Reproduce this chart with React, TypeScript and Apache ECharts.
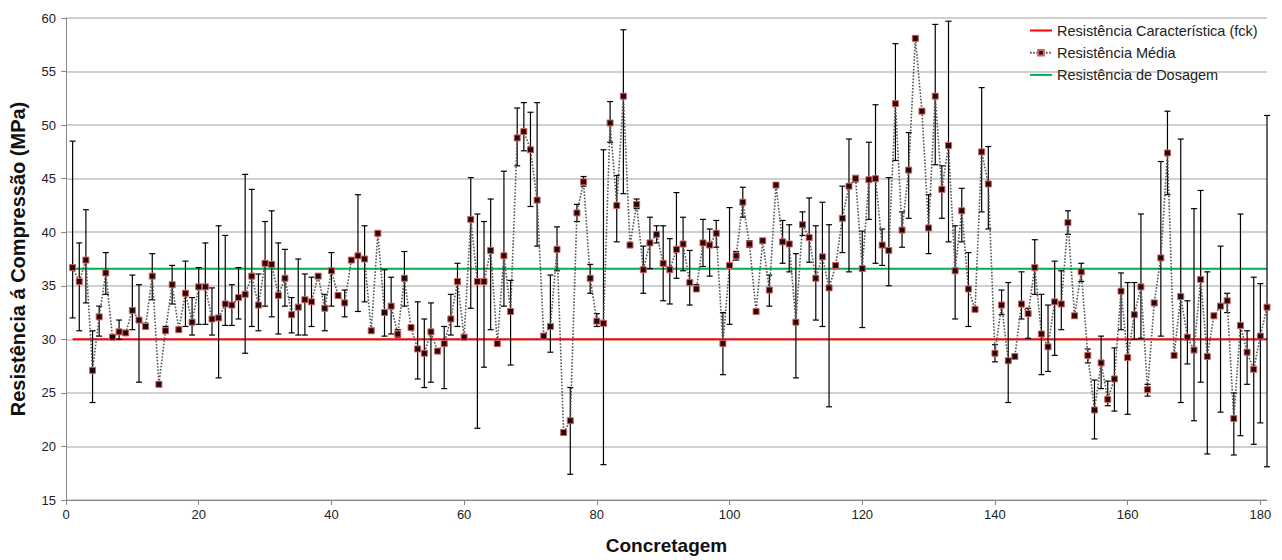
import React, { useEffect, useRef } from "react";
import * as echarts from "echarts";

const meanValues: number[] = [
  36.7, 35.4, 37.4, 27.1, 32.1, 36.2, 30.2, 30.7, 30.6, 32.7,
  31.8, 31.2, 35.9, 25.8, 30.8, 35.1, 30.9, 34.3, 31.6, 34.9,
  34.9, 31.9, 32.0, 33.3, 33.2, 33.9, 34.2, 35.9, 33.2, 37.1,
  37.0, 34.1, 35.7, 32.3, 33.0, 33.7, 33.5, 35.9, 32.9, 36.4,
  34.1, 33.4, 37.4, 37.8, 37.5, 30.8, 39.9, 32.5, 33.1, 30.5,
  35.7, 31.1, 29.1, 28.7, 30.7, 28.9, 29.6, 31.9, 35.4, 30.2,
  41.2, 35.4, 35.4, 38.3, 29.6, 37.8, 32.6, 48.8, 49.4, 47.7,
  43.0, 30.3, 31.2, 38.4, 21.3, 22.4, 41.8, 44.7, 35.7, 31.7,
  31.5, 50.2, 42.5, 52.7, 38.8, 42.6, 36.5, 39.0, 39.8, 37.1,
  36.5, 38.4, 38.9, 35.3, 34.7, 39.0, 38.8, 39.9, 29.6, 36.9,
  37.8, 42.8, 38.9, 32.6, 39.2, 34.6, 44.4, 39.1, 38.9, 31.6,
  40.7, 39.5, 35.7, 37.7, 34.8, 36.9, 41.3, 44.3, 45.0, 36.6,
  44.9, 45.0, 38.8, 38.3, 52.0, 40.2, 45.8, 58.1, 51.3, 40.4,
  52.7, 44.0, 48.1, 36.4, 42.0, 34.7, 32.8, 47.5, 44.5, 28.7,
  33.2, 28.0, 28.4, 33.3, 32.4, 36.7, 30.5, 29.3, 33.5, 33.3,
  40.9, 32.2, 36.3, 28.5, 23.4, 27.8, 24.4, 26.3, 34.5, 28.3,
  32.3, 34.9, 25.3, 33.4, 37.6, 47.4, 28.5, 34.0, 30.2, 29.0,
  35.6, 28.4, 32.2, 33.1, 33.6, 22.6, 31.3, 28.8, 27.2, 30.3,
  33.0,
];

const lowValues: number[] = [
  32.0, 30.8, 33.4, 24.1, 30.3, 34.2, 30.0, 30.0, 30.4, 30.9,
  26.0, 31.0, 33.7, 25.6, 30.6, 33.3, 30.7, 31.2, 30.4, 31.4,
  31.4, 30.4, 26.4, 31.3, 31.3, 31.9, 28.7, 31.2, 30.8, 33.1,
  32.1, 30.5, 33.1, 30.6, 30.4, 30.4, 31.2, 35.7, 30.8, 33.1,
  33.9, 32.1, 37.2, 32.6, 33.5, 30.6, 39.7, 30.3, 30.5, 30.2,
  33.1, 30.9, 26.3, 25.5, 26.0, 28.7, 25.4, 30.4, 31.2, 30.0,
  32.9, 21.7, 27.4, 30.9, 29.4, 33.1, 27.6, 46.2, 47.6, 42.4,
  38.7, 30.1, 28.8, 36.4, 21.1, 17.4, 41.0, 44.3, 34.3, 31.2,
  18.3, 48.4, 39.1, 43.6, 38.6, 42.2, 34.3, 36.6, 39.0, 33.6,
  33.3, 35.7, 36.4, 33.2, 34.5, 36.8, 35.9, 38.6, 26.7, 31.4,
  37.4, 41.4, 38.6, 32.4, 39.0, 33.1, 44.2, 37.1, 36.3, 26.4,
  39.7, 37.2, 31.8, 31.2, 23.7, 36.7, 38.1, 36.3, 44.7, 31.1,
  41.2, 37.1, 36.9, 35.0, 46.7, 38.6, 41.3, 57.9, 51.1, 38.0,
  46.3, 41.3, 39.1, 31.9, 39.1, 31.2, 32.6, 41.9, 40.3, 27.9,
  32.3, 24.1, 28.2, 31.9, 30.1, 34.2, 26.7, 27.0, 28.5, 30.9,
  39.8, 32.0, 35.4, 27.8, 20.7, 25.4, 23.8, 23.3, 30.9, 23.0,
  30.0, 30.1, 24.7, 33.2, 30.3, 43.5, 28.3, 24.1, 27.7, 22.4,
  26.0, 19.3, 32.0, 23.2, 32.5, 19.2, 21.0, 25.8, 20.2, 22.2,
  18.1,
];

const highValues: number[] = [
  48.5, 39.0, 42.1, 30.8, 33.1, 38.1, 30.4, 31.8, 30.8, 36.0,
  35.1, 31.5, 38.0, 26.0, 31.2, 36.9, 31.1, 37.3, 33.9, 36.7,
  39.0, 34.8, 40.6, 39.7, 35.1, 36.7, 45.4, 44.0, 36.1, 41.0,
  42.0, 39.0, 38.4, 33.9, 37.5, 36.1, 35.8, 36.1, 34.2, 38.1,
  34.3, 34.6, 37.6, 43.5, 40.6, 31.0, 40.1, 36.5, 35.8, 30.9,
  38.2, 31.3, 33.5, 31.9, 33.4, 29.1, 31.2, 34.2, 37.1, 30.4,
  45.1, 41.7, 41.0, 43.1, 29.8, 45.7, 35.5, 51.6, 52.1, 51.2,
  52.1, 30.5, 36.0, 40.5, 21.5, 25.5, 42.6, 45.2, 37.0, 32.4,
  47.7, 52.2, 45.3, 58.9, 39.0, 43.1, 38.7, 41.4, 40.6, 40.6,
  39.4, 43.7, 41.4, 38.3, 35.1, 41.2, 40.3, 41.1, 32.5, 42.3,
  38.2, 44.2, 39.2, 32.8, 39.4, 36.0, 44.6, 41.1, 40.7, 38.0,
  41.9, 43.2, 40.6, 42.8, 40.7, 37.1, 44.3, 48.7, 45.3, 40.1,
  48.4, 51.9, 40.3, 45.1, 57.6, 41.9, 49.3, 58.3, 51.5, 43.5,
  59.4, 46.2, 59.7, 40.6, 44.1, 38.1, 33.0, 53.5, 48.0, 29.5,
  34.6, 35.3, 28.6, 36.3, 32.9, 39.3, 34.2, 33.2, 37.3, 36.4,
  42.0, 32.4, 37.1, 29.1, 26.2, 30.3, 26.1, 29.2, 36.2, 35.3,
  35.3, 41.7, 25.8, 33.6, 46.6, 51.3, 28.7, 48.7, 33.6, 42.2,
  43.9, 36.3, 32.4, 38.7, 34.3, 25.0, 41.7, 30.8, 35.8, 35.2,
  50.9,
];

const fckValue = 30;
const dosagemValue = 36.6;
const xTicks = { min: 0, max: 181, interval: 20 };
const yTicks = { min: 15, max: 60, interval: 5 };

const seriesNames = [
  "Resistência Característica (fck)",
  "Resistência Média",
  "Resistência de Dosagem",
];

const FONT = "'Liberation Sans', Arial, sans-serif";

export default function App() {
  const ref = useRef<HTMLDivElement>(null);

  useEffect(() => {
    if (!ref.current) return;
    const chart = echarts.init(ref.current, null, { renderer: "svg" });
    const meanData = meanValues.map((v, i) => [i + 1, v]);
    const errData = meanValues.map((_, i) => [i + 1, lowValues[i], highValues[i]]);

    const option: any = {
      animation: false,
      backgroundColor: "#ffffff",
      textStyle: { fontFamily: FONT },
      grid: { left: 66, top: 18, right: 15, bottom: 59, containLabel: false },
      legend: {
        data: [
          { name: seriesNames[0], itemStyle: { opacity: 0 } },
          { name: seriesNames[1] },
          { name: seriesNames[2], itemStyle: { opacity: 0 } },
        ],
        orient: "vertical",
        left: 1024,
        top: 18,
        itemWidth: 22,
        itemHeight: 7,
        itemGap: 7.2,
        textStyle: { fontFamily: FONT, fontSize: 14.5, color: "#222" },
      },
      xAxis: {
        type: "value",
        min: xTicks.min,
        max: xTicks.max,
        interval: xTicks.interval,
        name: "Concretagem",
        nameLocation: "middle",
        nameGap: 36,
        nameTextStyle: { fontFamily: FONT, fontSize: 19, fontWeight: "bold", color: "#111" },
        axisLine: { lineStyle: { color: "#888", width: 1 } },
        axisTick: { show: true, length: 5, lineStyle: { color: "#888" } },
        axisLabel: { showMaxLabel: false, fontSize: 13, color: "#222", margin: 8, fontFamily: FONT },
        splitLine: { show: false },
      },
      yAxis: {
        type: "value",
        min: yTicks.min,
        max: yTicks.max,
        interval: yTicks.interval,
        name: "Resistência á Compressão (MPa)",
        nameLocation: "middle",
        nameGap: 38,
        nameRotate: 90,
        nameTextStyle: { fontFamily: FONT, fontSize: 20, fontWeight: "bold", color: "#111" },
        axisLine: { show: true, lineStyle: { color: "#888", width: 1 } },
        axisTick: { show: true, length: 5, lineStyle: { color: "#888" } },
        axisLabel: { fontSize: 13, color: "#222", margin: 10, fontFamily: FONT },
        splitLine: { show: true, lineStyle: { color: "#c0c0c0", width: 1.5 } },
      },
      series: [
        {
          name: seriesNames[0],
          type: "line",
          data: [[1, fckValue], [xTicks.max, fckValue]],
          symbol: "none",
          lineStyle: { color: "#ff0000", width: 2 },
          itemStyle: { color: "#ff0000" },
          z: 1,
        },
        {
          name: seriesNames[2],
          type: "line",
          data: [[1, dosagemValue], [xTicks.max, dosagemValue]],
          symbol: "none",
          lineStyle: { color: "#00b050", width: 2 },
          itemStyle: { color: "#00b050" },
          z: 1,
        },
        {
          name: "erro",
          type: "custom",
          data: errData,
          encode: { x: 0, y: [1, 2] },
          clip: false,
          z: 2,
          renderItem: (params: any, api: any) => {
            const x = api.value(0);
            const lo = api.value(1);
            const hi = api.value(2);
            const p1 = api.coord([x, hi]);
            const p2 = api.coord([x, lo]);
            const w = 3;
            const st = { stroke: "#000", lineWidth: 1.2 };
            return {
              type: "group",
              children: [
                { type: "line", shape: { x1: p1[0], y1: p1[1], x2: p2[0], y2: p2[1] }, style: st },
                { type: "line", shape: { x1: p1[0] - w, y1: p1[1], x2: p1[0] + w, y2: p1[1] }, style: st },
                { type: "line", shape: { x1: p2[0] - w, y1: p2[1], x2: p2[0] + w, y2: p2[1] }, style: st },
              ],
            };
          },
        },
        {
          name: seriesNames[1],
          type: "line",
          data: meanData,
          symbol: "rect",
          symbolSize: 6,
          showAllSymbol: true,
          lineStyle: { color: "#555", width: 1.6, type: [1.6, 1.6] },
          itemStyle: { color: "#2a0606", borderColor: "#d06060", borderWidth: 1 },
          z: 3,
        },
      ],
    };
    chart.setOption(option);
    return () => chart.dispose();
  }, []);

  return (
    <div
      ref={ref}
      style={{ position: "absolute", left: 0, top: 0, width: 1282, height: 560 }}
    />
  );
}
